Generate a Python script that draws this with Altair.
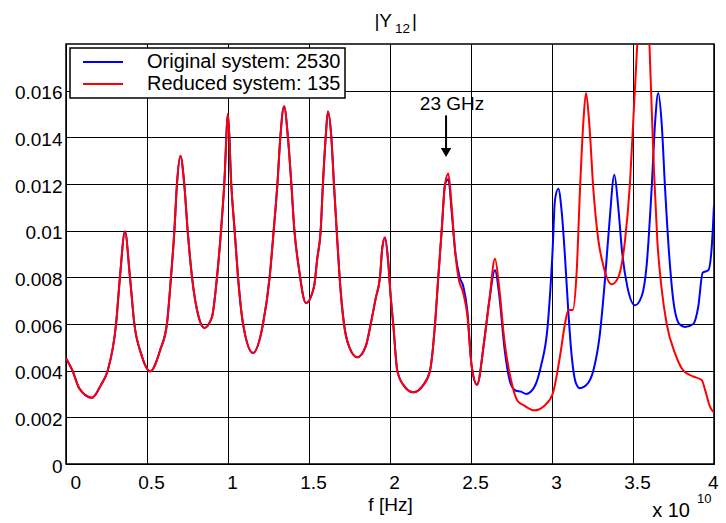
import altair as alt
import pandas as pd

# ---- data (frequency in units of 1e10 Hz) ----
common_f = [0.00, 0.04, 0.082, 0.16, 0.216, 0.257, 0.309, 0.333, 0.364, 0.395, 0.422, 0.463,
            0.52, 0.582, 0.623, 0.648, 0.669, 0.685, 0.706, 0.730, 0.751, 0.778, 0.819, 0.854,
            0.901, 0.932, 0.957, 0.977, 1.000, 1.020, 1.041, 1.062, 1.093, 1.154, 1.216, 1.257,
            1.282, 1.305, 1.323, 1.346, 1.370, 1.391, 1.410, 1.436, 1.481, 1.531, 1.551, 1.572,
            1.586, 1.603, 1.617, 1.638, 1.654, 1.671, 1.689, 1.716, 1.747, 1.798, 1.850, 1.881,
            1.912, 1.938, 1.953, 1.969, 1.988, 2.004, 2.020, 2.045, 2.082, 2.144, 2.206, 2.247,
            2.278, 2.298, 2.319, 2.340]
common_y = [0.00453, 0.0040, 0.00324, 0.00284, 0.00339, 0.0040, 0.0060, 0.0080, 0.00996, 0.0080, 0.0060, 0.00474,
            0.00397, 0.0049, 0.0060, 0.0080, 0.0100, 0.0120, 0.0132, 0.0120, 0.0100, 0.0080, 0.0063, 0.00583,
            0.0063, 0.0080, 0.0100, 0.0120, 0.0150, 0.0120, 0.0100, 0.0080, 0.0060, 0.00476, 0.0060, 0.0080,
            0.0100, 0.0120, 0.0140, 0.01533, 0.0140, 0.0120, 0.0100, 0.00847, 0.0069, 0.0076, 0.0088, 0.0100,
            0.0120, 0.0140, 0.01511, 0.0140, 0.0120, 0.0100, 0.0080, 0.0060, 0.00504, 0.00457, 0.00504, 0.0060,
            0.00711, 0.0080, 0.0093, 0.00971, 0.00874, 0.0072, 0.0060, 0.0040, 0.00339, 0.00307, 0.00339, 0.0040,
            0.0060, 0.0080, 0.0100, 0.0120]

orig_tail_f = [2.360, 2.381, 2.401, 2.430, 2.453, 2.477, 2.504, 2.537, 2.582, 2.613, 2.648, 2.675,
               2.706, 2.747, 2.778, 2.809, 2.840, 2.891, 2.932, 2.973, 3.004, 3.018, 3.039, 3.060,
               3.080, 3.101, 3.122, 3.148, 3.173, 3.214, 3.255, 3.296, 3.327, 3.354, 3.385, 3.409,
               3.434, 3.465, 3.512, 3.554, 3.584, 3.615, 3.636, 3.656, 3.677, 3.698, 3.724, 3.749,
               3.786, 3.821, 3.872, 3.903, 3.930, 3.965, 3.986, 4.000]
orig_tail_y = [0.0122, 0.0108, 0.0092, 0.0080, 0.0076, 0.0066, 0.0042, 0.0034, 0.0053, 0.0070, 0.0083, 0.0072,
               0.0050, 0.0034, 0.00314, 0.0031, 0.0030, 0.0033, 0.0042, 0.0059, 0.0092, 0.0113, 0.0118, 0.0108,
               0.0089, 0.0065, 0.0046, 0.00346, 0.00325, 0.0034, 0.0040, 0.0056, 0.0079, 0.0103, 0.0124, 0.0110,
               0.0090, 0.0076, 0.0068, 0.0072, 0.0085, 0.0118, 0.0146, 0.0159, 0.0146, 0.0118, 0.0089, 0.0070,
               0.0060, 0.00587, 0.0060, 0.00675, 0.0082, 0.0083, 0.0093, 0.0111]

red_tail_f = [2.360, 2.381, 2.401, 2.422, 2.453, 2.477, 2.504, 2.537, 2.582, 2.613, 2.648, 2.675,
              2.706, 2.747, 2.788, 2.829, 2.891, 2.953, 3.004, 3.049, 3.080, 3.101, 3.128, 3.152,
              3.173, 3.193, 3.210, 3.230, 3.255, 3.286, 3.317, 3.369, 3.409, 3.451, 3.481, 3.506,
              3.527, 3.563, 3.601, 3.615, 3.630, 3.650, 3.677, 3.708, 3.759, 3.811, 3.872, 3.924,
              3.944, 3.975, 4.000]
red_tail_y = [0.01245, 0.0110, 0.0092, 0.0080, 0.0073, 0.0064, 0.0042, 0.0034, 0.0053, 0.0070, 0.0088, 0.0075,
              0.0053, 0.0036, 0.0027, 0.0025, 0.0023, 0.0025, 0.0030, 0.0046, 0.0060, 0.0066, 0.0066, 0.0082,
              0.0118, 0.0146, 0.0159, 0.0146, 0.0118, 0.0096, 0.0085, 0.0077, 0.0080, 0.0096, 0.0120, 0.0153,
              0.0181, 0.0240, 0.0181, 0.0153, 0.0125, 0.0096, 0.0075, 0.0060, 0.00475, 0.0040, 0.00375, 0.0036,
              0.0032, 0.00246, 0.0022]

series_names = ["Original system: 2530", "Reduced system: 135"]
series_colors = ["#0000ff", "#ff0000"]

x_ticks = [0, 0.5, 1, 1.5, 2, 2.5, 3, 3.5, 4]
y_ticks = [0, 0.002, 0.004, 0.006, 0.008, 0.010, 0.012, 0.014, 0.016]

annot_text = ["23 GHz"]
annot_x = [2.383]
annot_y = [0.01545]
arrow_x = [2.346]
arrow_top = [0.01494]
arrow_bottom = [0.01345]
arrow_head_y = [0.01335]

title_main = ["|Y"]
title_sub = ["12"]
title_end = ["|"]
mult_main = ["x 10"]
mult_exp = ["10"]

FONT = "Liberation Sans"

# ---- build table ----
rows = []
for f, y in zip(common_f + orig_tail_f, common_y + orig_tail_y):
    rows.append({"f": f, "y": y, "series": series_names[0], "o": 0})
for f, y in zip(common_f + red_tail_f, common_y + red_tail_y):
    rows.append({"f": f, "y": y, "series": series_names[1], "o": 1})
df = pd.DataFrame(rows)

xscale = alt.Scale(domain=[0, 4], nice=False, zero=False)
yscale = alt.Scale(domain=[0, 0.018], nice=False)
color = alt.Color(
    "series:N",
    scale=alt.Scale(domain=series_names, range=series_colors),
    legend=alt.Legend(
        title=None, orient="none", legendX=4, legendY=4,
        fillColor="white", strokeColor="black",
        padding=4, symbolType="M-4,0H4", symbolSize=100, symbolStrokeWidth=2,
        symbolFillColor="transparent", symbolOffset=19,
        labelFont=FONT, labelFontSize=20, labelLimit=400, labelOffset=34,
        rowPadding=2, offset=0,
    ),
)

xenc = alt.X("f:Q", scale=xscale,
             axis=alt.Axis(values=x_ticks, format="~g", title="f [Hz]", grid=True,
                           gridColor="black", gridOpacity=1, gridWidth=1, ticks=False,
                           domain=False, labelFont=FONT, labelFontSize=19, labelPadding=9,
                           labelOffset=4, labelColor="black", titleFont=FONT, titleFontSize=19,
                           titleFontWeight="normal", titleColor="black", titlePadding=3))
yenc = alt.Y("y:Q", scale=yscale,
             axis=alt.Axis(values=y_ticks, format="~g", title=None, grid=True,
                           gridColor="black", gridOpacity=1, gridWidth=1, ticks=False,
                           domain=False, labelFont=FONT, labelFontSize=19, labelPadding=4,
                           labelOffset=2, labelColor="black"))

base = alt.Chart(df)
blue = base.transform_filter(alt.datum.o == 0).mark_line(
    strokeWidth=2, interpolate="monotone", clip=True).encode(x=xenc, y=yenc, color=color)
red = base.transform_filter(alt.datum.o == 1).mark_line(
    strokeWidth=2, interpolate="monotone", clip=True).encode(x="f:Q", y="y:Q", color=color)

ann_df = pd.DataFrame({"t": annot_text, "x": annot_x, "y": annot_y})
ann = alt.Chart(ann_df).mark_text(font=FONT, fontSize=19, color="black", baseline="middle").encode(
    x="x:Q", y="y:Q", text="t:N")
arr_df = pd.DataFrame({"x": arrow_x, "y1": arrow_top, "y2": arrow_bottom, "yh": arrow_head_y})
shaft = alt.Chart(arr_df).mark_rule(color="black", strokeWidth=2).encode(x="x:Q", y="y1:Q", y2="y2:Q")
head = alt.Chart(arr_df).mark_point(shape="triangle-down", filled=True, color="black", size=110,
                                    opacity=1).encode(x="x:Q", y="yh:Q")

t1 = alt.Chart(pd.DataFrame({"t": title_main})).mark_text(
    font=FONT, fontSize=19, align="right", baseline="middle", color="black").encode(
    text="t:N", x=alt.value(326), y=alt.value(-23))
t2 = alt.Chart(pd.DataFrame({"t": title_sub})).mark_text(
    font=FONT, fontSize=13.5, align="left", baseline="middle", color="black").encode(
    text="t:N", x=alt.value(329), y=alt.value(-15))
t3 = alt.Chart(pd.DataFrame({"t": title_end})).mark_text(
    font=FONT, fontSize=19, align="left", baseline="middle", color="black").encode(
    text="t:N", x=alt.value(346), y=alt.value(-23))
m1 = alt.Chart(pd.DataFrame({"t": mult_main})).mark_text(
    font=FONT, fontSize=20, align="right", baseline="middle", color="black").encode(
    text="t:N", x=alt.value(624), y=alt.value(467))
m2 = alt.Chart(pd.DataFrame({"t": mult_exp})).mark_text(
    font=FONT, fontSize=13, align="left", baseline="middle", color="black").encode(
    text="t:N", x=alt.value(631), y=alt.value(455))

chart = alt.layer(blue, red, ann, shaft, head, t1, t2, t3, m1, m2).properties(
    width=648, height=420,
    padding={"left": 66, "top": 44, "right": 12, "bottom": 59},
    autosize=alt.AutoSizeParams(type="none"),
    background="white",
).configure_view(stroke="black", strokeWidth=1.5).configure_legend(strokeWidth=1.5)

chart.save("out.html", embed_options={"renderer": "svg", "actions": False})
